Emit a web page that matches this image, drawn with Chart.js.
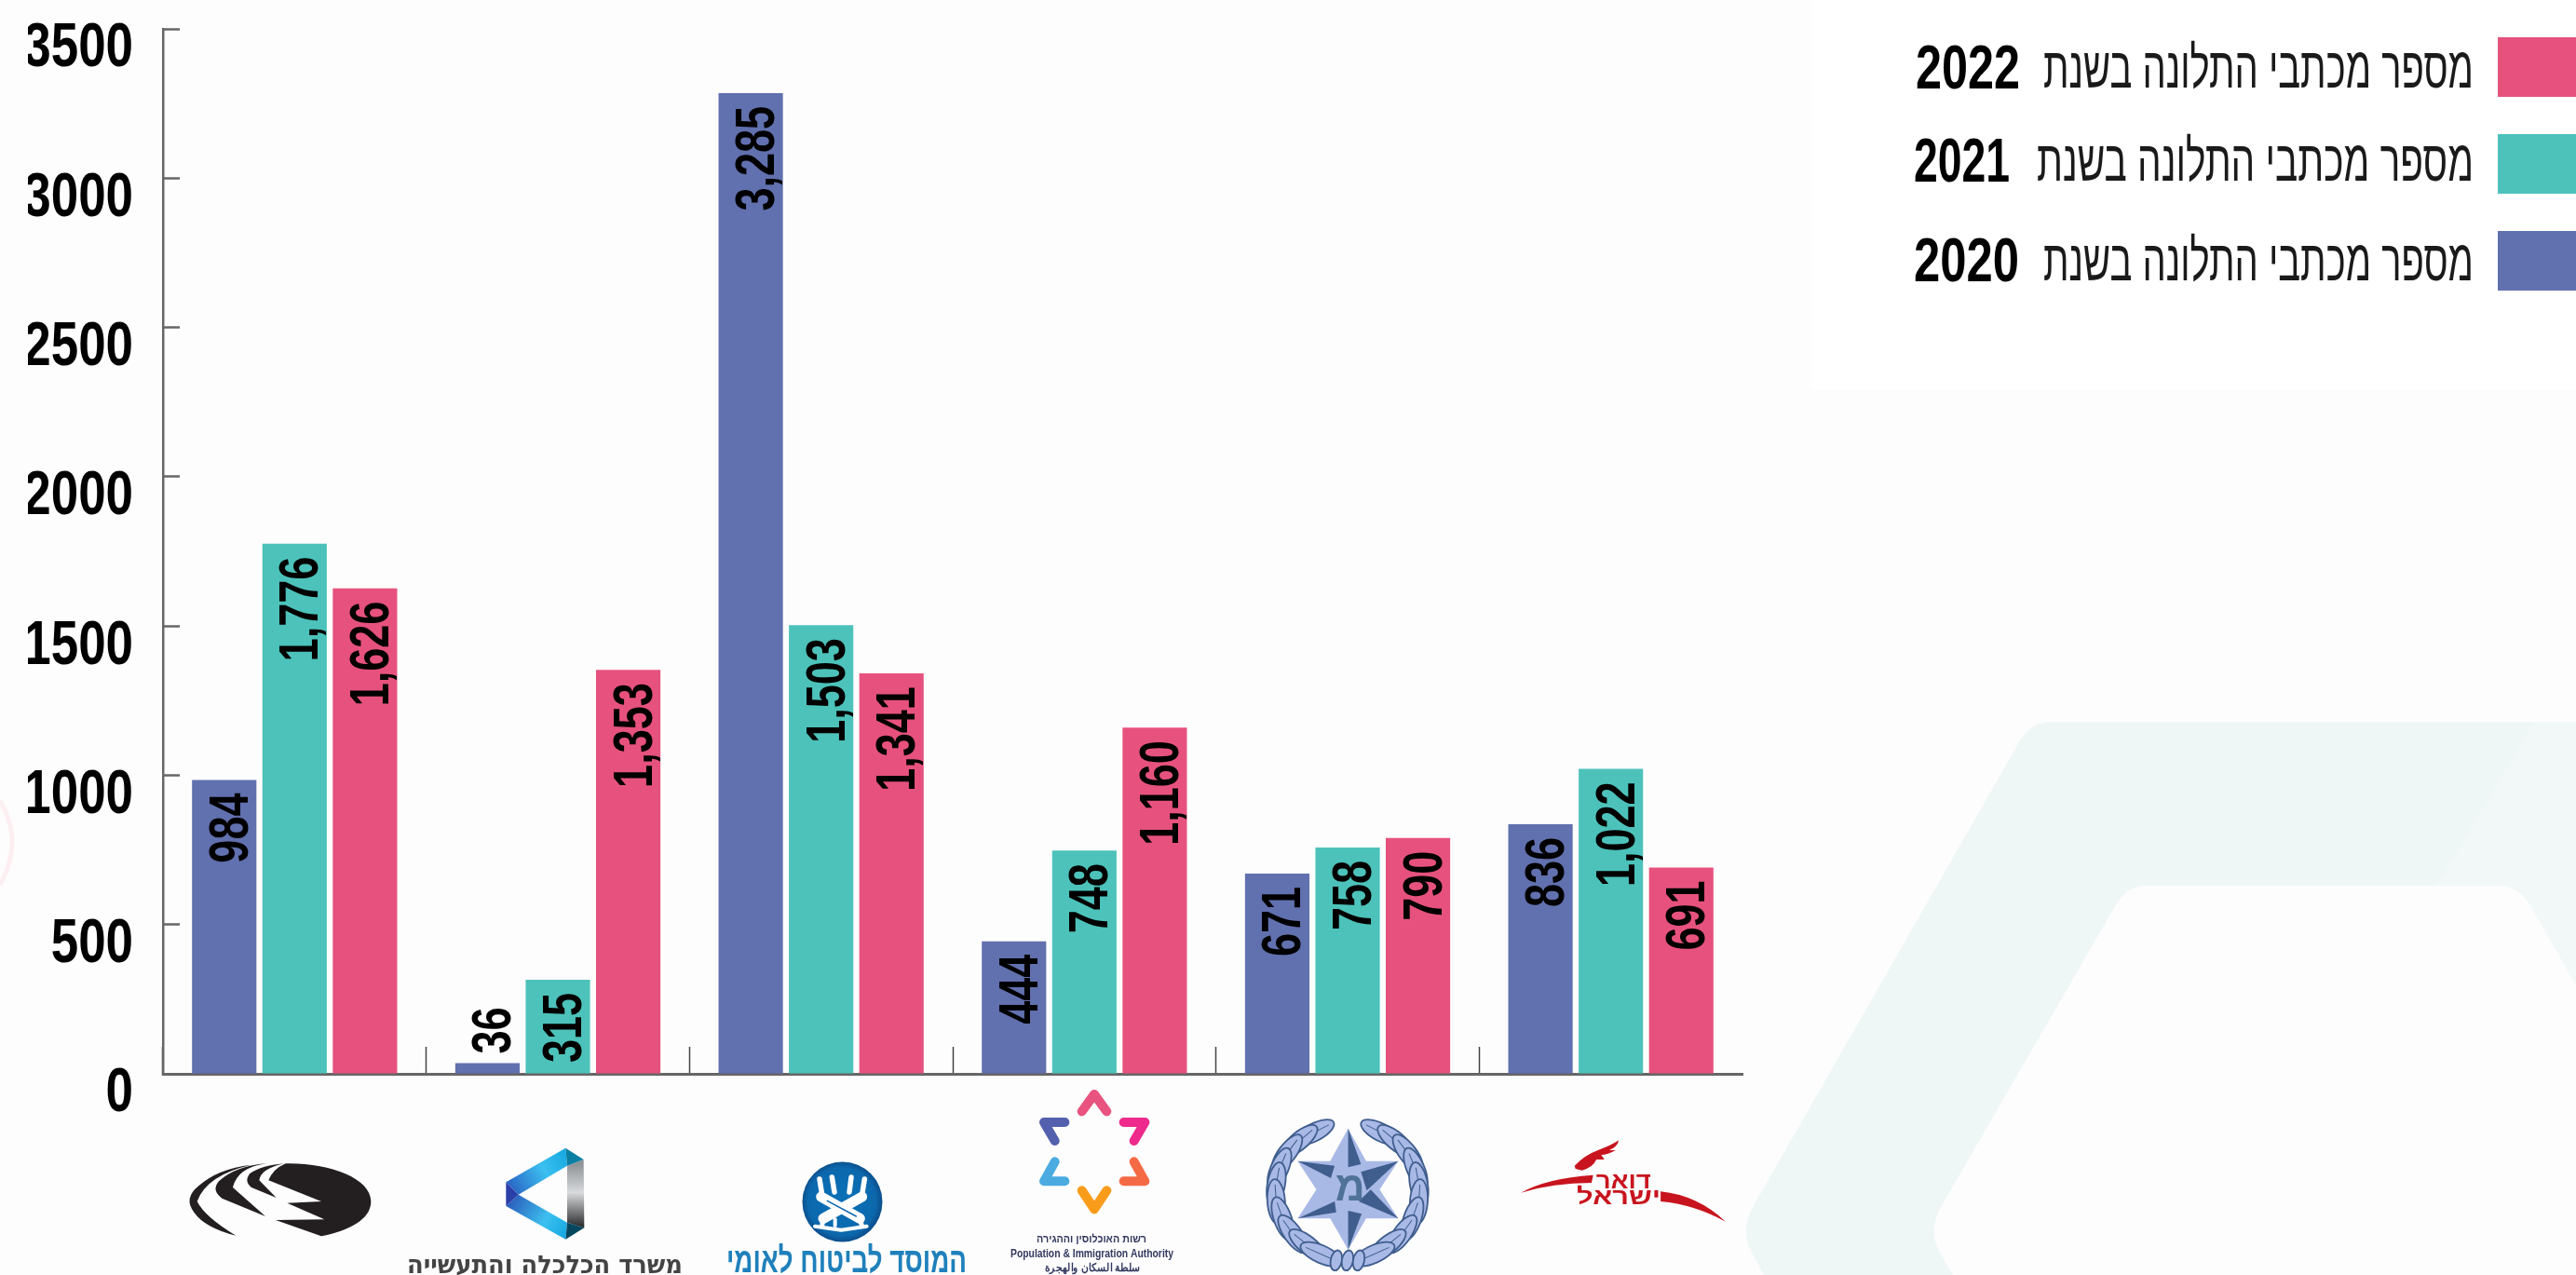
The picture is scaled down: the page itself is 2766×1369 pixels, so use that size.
<!DOCTYPE html>
<html lang="he"><head><meta charset="utf-8">
<style>html,body{margin:0;padding:0;background:#fdfdfd;overflow:hidden}canvas{display:block}</style>
<script src="https://cdn.jsdelivr.net/npm/chart.js@4"></script></head>
<body><canvas id="c" width="2766" height="1369"></canvas>
<script>
const categories = ['חברת החשמל','משרד הכלכלה והתעשייה','המוסד לביטוח לאומי','רשות האוכלוסין וההגירה','משטרת ישראל','דואר ישראל'];
const values2020 = [984,36,3285,444,671,836];
const values2021 = [1776,315,1503,748,758,1022];
const values2022 = [1626,1353,1341,1160,790,691];
const yTicks = [0,500,1000,1500,2000,2500,3000,3500];
const legendPrefix = 'מספר מכתבי התלונה בשנת';
const BLUE='#6170AE', TEAL='#4CC2BA', PINK='#E6527D';
const SANS='"Liberation Sans",sans-serif';

function fit(ctx,text,right,base,width,font,color,rtl){
  ctx.save();ctx.font=font;ctx.fillStyle=color;ctx.textBaseline='alphabetic';
  ctx.direction=rtl?'rtl':'ltr';ctx.textAlign='right';
  const w=ctx.measureText(text).width;
  ctx.translate(right,base);ctx.scale(width/w,1);ctx.fillText(text,0,0);ctx.restore();
}
function poly(ctx,fn,d,fill){const p=new Path2D();const m=/([MLQCZ])|(-?[\d.]+)/g;let t=d.match(m),i=0;
  while(i<t.length){const c=t[i++];
    const g=n=>{const a=[];for(let k=0;k<n;k++){const x=+t[i++],y=+t[i++];const r=fn(x,y);a.push(r[0],r[1]);}return a;};
    if(c==='M')p.moveTo(...g(1));else if(c==='L')p.lineTo(...g(1));else if(c==='Q')p.quadraticCurveTo(...g(2));else if(c==='C')p.bezierCurveTo(...g(3));else if(c==='Z')p.closePath();}
  ctx.fillStyle=fill;ctx.fill(p);}

function drawBackground(ctx){
  ctx.fillStyle='#fdfdfd';ctx.fillRect(0,0,2766,1369);
  ctx.fillStyle='#ffffff';ctx.fillRect(1945,0,821,418);
  const ring=new Path2D('M2766 775L2203 775Q2180 775 2168 797L1882 1296Q1868 1321 1881 1345L1894 1369L2097 1369L2083 1345Q2070 1321 2084 1296L2270 975Q2283 951 2305 951L2683 951Q2705 951 2717 972L2766 1058Z');
  ctx.fillStyle='#eff7f6';ctx.fill(ring);
  ctx.fillStyle='rgba(255,255,255,.15)';ctx.beginPath();ctx.moveTo(2766,700);ctx.lineTo(2367,1369);ctx.lineTo(2766,1369);ctx.closePath();ctx.fill();
  ctx.strokeStyle='#fdeef1';ctx.lineWidth=5;ctx.beginPath();ctx.moveTo(0,860);ctx.quadraticCurveTo(26,903,0,950);ctx.stroke();
}
function drawLegend(ctx){
  const rows=[
    {y:40,color:PINK,year:'2022',yr:2169,yw:112,base:95,tl:2194},
    {y:144,color:TEAL,year:'2021',yr:2158,yw:103,base:195,tl:2187},
    {y:248,color:BLUE,year:'2020',yr:2168,yw:113,base:302,tl:2194}];
  rows.forEach(r=>{
    ctx.fillStyle=r.color;ctx.fillRect(2682,r.y,84,64);
    fit(ctx,legendPrefix,2656,r.base-1,2656-r.tl,'62px '+SANS,'#1a1a1a',true);
    fit(ctx,r.year,r.yr,r.base,r.yw,'bold 67px '+SANS,'#000',false);
  });
}
function logo1(ctx){const z=(x,y)=>[180+x/3,1190+y/3],c='#231f20';
  poly(ctx,z,'M325 232Q340 195 380 178C520 175 655 225 655 300C655 360 580 395 495 412L348 360L505 358L385 305L495 300Z',c);
  poly(ctx,z,'M375 178Q300 195 295 232L350 288L270 255Q245 235 265 210Q300 185 375 178Z',c);
  poly(ctx,z,'M320 178Q225 190 210 255L315 348L175 290Q140 265 165 235Q220 185 320 178Z',c);
  poly(ctx,z,'M270 182Q125 215 95 300Q120 350 220 410Q120 385 85 335Q50 290 100 250Q160 195 270 182Z',c);
}
function logo2(ctx){const z=(x,y)=>[180+x/3,1190+y/3];
  let g=ctx.createLinearGradient(543,1270,610,1232);g.addColorStop(0,'#2a62c4');g.addColorStop(.55,'#3cc0f0');g.addColorStop(1,'#10a5de');
  poly(ctx,z,'M1090 238L1282 128L1287 185L1130 278Z',g);
  g=ctx.createLinearGradient(543,1290,610,1330);g.addColorStop(0,'#2a56b8');g.addColorStop(.6,'#3cc0f0');g.addColorStop(1,'#10a5de');
  poly(ctx,z,'M1090 315L1130 278L1287 368L1282 422Z',g);
  poly(ctx,z,'M1090 238L1130 278L1090 315Z','#2b3fa8');
  g=ctx.createLinearGradient(0,1250,0,1318);g.addColorStop(0,'#8f9498');g.addColorStop(.45,'#d8dadc');g.addColorStop(1,'#26282a');
  poly(ctx,z,'M1287 185L1340 165L1342 385L1287 368Z',g);
  poly(ctx,z,'M1282 128L1340 165L1287 185Z','#0b7fa3');
  poly(ctx,z,'M1287 368L1342 385L1282 422Z','#06475f');
  fit(ctx,categories[1],733,1367,296,'bold 27px "DejaVu Sans",sans-serif','#444',true);
}
function logo3(ctx){
  const g=ctx.createRadialGradient(904,1290,10,904,1290,43);g.addColorStop(0,'#0a6fb5');g.addColorStop(.8,'#0c68ad');g.addColorStop(1,'#0b4f8c');
  ctx.fillStyle=g;ctx.beginPath();ctx.ellipse(904.5,1290.5,43,43,0,0,7);ctx.fill();
  const z=(x,y)=>[760+x/3,1160+y/3];
  const line=(l,w,c)=>{ctx.strokeStyle=c;ctx.lineWidth=w;ctx.lineCap='round';ctx.lineJoin='round';ctx.beginPath();
    l.forEach((p,i)=>{const q=z(p[0],p[1]);i?ctx.lineTo(q[0],q[1]):ctx.moveTo(q[0],q[1]);});ctx.stroke();};
  [[[360,318],[368,368]],[[400,312],[408,360]],[[462,312],[456,360]],[[505,318],[497,368]]].forEach(l=>line(l,5.5,'#fff'));
  line([[365,375],[490,445]],11,'#fff');
  line([[497,375],[372,445]],11,'#fff');
  line([[385,388],[478,438]],1.5,'#0c68ad');
  line([[345,470],[430,482],[512,470]],4,'#fff');
  line([[372,445],[368,468]],5,'#fff');line([[490,445],[496,468]],5,'#fff');line([[410,448],[410,468]],4,'#fff');
  ctx.lineCap='butt';
  fit(ctx,categories[2],1038,1366,258,'bold 38px '+SANS,'#1f80bb',true);
}
function logo4(ctx){
  const z=(x,y)=>[760+x/3,1160+y/3];
  [['#E8537F',[1205,100],[1245,45],[1285,100]],['#EE2A8C',[1340,135],[1408,135],[1373,195]],['#5360AE',[1150,135],[1083,135],[1118,195]],
   ['#4BABE0',[1150,325],[1083,325],[1118,262]],['#F46A45',[1340,325],[1408,325],[1373,262]],['#F99C1C',[1205,355],[1245,415],[1285,355]]].forEach(s=>{
    ctx.strokeStyle=s[0];ctx.lineWidth=10;ctx.lineCap='round';ctx.lineJoin='round';ctx.beginPath();
    ctx.moveTo(...z(...s[1]));ctx.lineTo(...z(...s[2]));ctx.lineTo(...z(...s[3]));ctx.stroke();});
  ctx.lineCap='butt';
  fit(ctx,'רשות האוכלוסין וההגירה',1231,1334,118,'bold 12px '+SANS,'#33395f',true);
  fit(ctx,'Population & Immigration Authority',1260,1350,175,'bold 12px '+SANS,'#33395f',false);
  fit(ctx,'سلطة السكان والهجرة',1224,1365,102,'bold 12px '+SANS,'#33395f',true);
}
function logo5(ctx){
  const z=(x,y)=>[1340+x/2.9,1190+y/3],dark='#3F5D8D',light='#A9B9E6';
  const leaves=[[205,78],[160,105],[122,145],[98,195],[88,245],[88,300],[108,355],[140,405],[185,440],[228,470]];
  leaves.forEach((L)=>[L[0],620-L[0]].forEach(x=>{
    const q=z(x,L[1]),ang=Math.atan2(L[1]-285,x-310)+Math.PI/2;
    ctx.save();ctx.translate(q[0],q[1]);ctx.rotate(ang);ctx.fillStyle=light;ctx.strokeStyle=dark;ctx.lineWidth=1.8;
    ctx.beginPath();ctx.ellipse(0,0,24,9.5,0,0,7);ctx.fill();ctx.stroke();
    ctx.lineWidth=1;ctx.beginPath();ctx.moveTo(-18,0);ctx.lineTo(18,0);ctx.stroke();ctx.restore();}));
  [275,310,345].forEach(x=>{const q=z(x,490);ctx.fillStyle=light;ctx.strokeStyle=dark;ctx.lineWidth=1.8;ctx.beginPath();ctx.ellipse(q[0],q[1],6,11,.2,0,7);ctx.fill();ctx.stroke();});
  const star='M312 65L368 170L468 170L410 262L468 355L368 355L312 455L256 355L155 355L213 262L155 170L256 170Z';
  poly(ctx,z,star,light);
  poly(ctx,z,'M312 65L352 180L312 190Z',dark);
  poly(ctx,z,'M468 170L370 265L352 205Z',dark);
  poly(ctx,z,'M468 355L345 300L382 262Z',dark);
  poly(ctx,z,'M312 455L312 330L354 340Z',dark);
  poly(ctx,z,'M155 355L270 300L275 335Z',dark);
  poly(ctx,z,'M155 170L270 185L258 225Z',dark);
  ctx.save();ctx.fillStyle='#4F7299';ctx.font='bold 44px '+SANS;ctx.textAlign='center';ctx.direction='rtl';ctx.textBaseline='middle';
  ctx.fillText('מ',...z(318,262));ctx.restore();
}
function logo6(ctx){
  const z=(x,y)=>[1340+x/2.9,1190+y/3],c='#C8141E';
  poly(ctx,z,'M1017 185Q1050 150 1090 135Q1130 120 1155 103Q1150 125 1125 135L1145 135Q1120 150 1100 150L1110 165L1085 165Q1075 190 1040 200L1020 195Z',c);
  poly(ctx,z,'M850 272Q930 225 1075 215L1070 240Q950 240 850 272Z',c);
  poly(ctx,z,'M1285 268Q1400 280 1487 365Q1390 310 1285 300Z',c);
  fit(ctx,'דואר',1340+1255/2.9,1190+257/3,59,'bold 24px '+SANS,c,true);
  fit(ctx,'ישראל',1340+1285/2.9,1190+308/3,90,'bold 24px '+SANS,c,true);
}
const backdrop={id:'backdrop',beforeDraw(chart){drawBackground(chart.ctx);}};
const overlay={id:'overlay',afterDraw(chart){const ctx=chart.ctx;
  drawLegend(ctx);[logo1,logo2,logo3,logo4,logo5,logo6].forEach(f=>f(ctx));}};
const valueLabels={id:'valueLabels',afterDatasetsDraw(chart){const ctx=chart.ctx;
  chart.data.datasets.forEach((ds,i)=>{chart.getDatasetMeta(i).data.forEach((bar,j)=>{
    const v=ds.data[j],txt=v.toLocaleString('en-US'),outside=v<100;
    ctx.save();ctx.font='bold 60px '+SANS;ctx.fillStyle='#000';ctx.textBaseline='alphabetic';
    ctx.translate(bar.x+25,outside?bar.y-10:bar.y+14);
    ctx.rotate(-Math.PI/2);ctx.scale(.75,1);
    ctx.textAlign=outside?'left':'right';ctx.fillText(txt,0,0);ctx.restore();
  });});}};

new Chart(document.getElementById('c'),{type:'bar',
  data:{labels:categories,datasets:[
    {label:legendPrefix+' 2020',data:values2020,backgroundColor:BLUE},
    {label:legendPrefix+' 2021',data:values2021,backgroundColor:TEAL},
    {label:legendPrefix+' 2022',data:values2022,backgroundColor:PINK}]},
  options:{responsive:false,animation:false,events:[],
    categoryPercentage:.802,barPercentage:.915,
    layout:{padding:{top:31,right:895,left:0,bottom:0}},
    plugins:{legend:{display:false},tooltip:{enabled:false}},
    scales:{
      x:{grid:{drawOnChartArea:false,tickLength:-29,tickWidth:1.5,tickColor:c=>c.tick?'#444':'transparent'},
         border:{color:'#666',width:3},ticks:{display:false},
         afterFit(s){s.height=216;s.paddingLeft=0;s.paddingRight=0;}},
      y:{min:0,max:3500,afterBuildTicks(s){s.ticks=yTicks.map(v=>({value:v}));
           if(!s._narrowed){s._narrowed=true;const orig=s.drawLabels;
             s.drawLabels=function(a){const c=this.ctx;c.save();c.translate(143,0);c.scale(.79,1);c.translate(-143,0);orig.call(this,a);c.restore();};}},
         grid:{drawOnChartArea:false,tickLength:-18,tickWidth:2.5,tickColor:'#666'},
         border:{color:'#666',width:2.5},
         ticks:{font:{family:SANS,weight:'bold',size:67},color:'#000',padding:50,labelOffset:22,callback:v=>String(v)},
         afterFit(s){s.width=175;s.paddingTop=0;s.paddingBottom=0;}}
    }},
  plugins:[backdrop,valueLabels,overlay]});
</script></body></html>
